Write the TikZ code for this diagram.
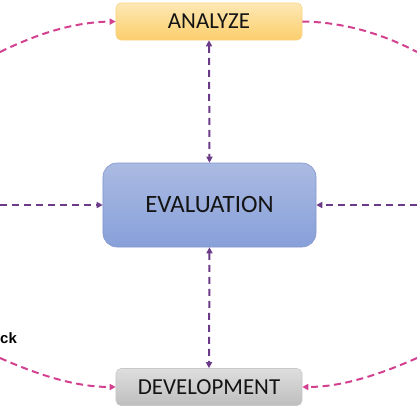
\documentclass[tikz,border=0pt]{standalone}
\usepackage{fontspec}
\setmainfont{Carlito}
\newfontfamily\labelfont{Liberation Sans}
\usetikzlibrary{arrows.meta,shadings}
\definecolor{pinkline}{HTML}{D2408F}
\definecolor{purpleline}{HTML}{6B3A88}
\definecolor{textdark}{HTML}{141414}
\tikzset{
  boxbase/.style={rounded corners=5bp, minimum width=186bp, minimum height=37bp, inner sep=0pt, text=textdark, font=\fontsize{23}{26}\selectfont},
  anabox/.style={boxbase, draw={rgb,255:red,248;green,210;blue,130}, line width=0.6bp, top color={rgb,255:red,253;green,232;blue,180}, bottom color={rgb,255:red,252;green,206;blue,108}},
  devbox/.style={boxbase, draw={rgb,255:red,200;green,200;blue,200}, line width=0.6bp, top color={rgb,255:red,222;green,222;blue,222}, bottom color={rgb,255:red,190;green,190;blue,190}},
  evalbox/.style={rounded corners=14bp, minimum width=213bp, minimum height=84bp, inner sep=0pt, text=textdark, font=\fontsize{25}{28}\selectfont, draw={rgb,255:red,130;green,150;blue,205}, line width=0.6bp, top color={rgb,255:red,170;green,186;blue,226}, bottom color={rgb,255:red,136;green,160;blue,217}},
  pinkarrow/.style={draw=pinkline, line width=2bp, dash pattern=on 7bp off 4.5bp, -{Triangle[length=6bp,width=6bp]}},
  purplearrow/.style={draw=purpleline, line width=2bp, dash pattern=on 7bp off 5bp},
  purpletip/.style={{Triangle[length=6bp,width=6bp]}-{Triangle[length=6bp,width=6bp]}},
  endtip/.style={-{Triangle[length=6bp,width=6bp]}},
  sidelabel/.style={font=\labelfont\bfseries\fontsize{15}{17}\selectfont, text=black, inner sep=0pt, anchor=west}
}
\begin{document}
\begin{tikzpicture}[x=1bp,y=-1bp]
\useasboundingbox (0,0) rectangle (417,417);
\node[anabox] (ana) at (209,21.5) {ANALYZE};
\node[evalbox] (eval) at (209.5,205) {EVALUATION};
\node[devbox] (dev) at (209,387) {DEVELOPMENT};
\node[sidelabel] (ck) at (0,338) {ck};
\coordinate (tl) at (0,52);
\coordinate (tr) at (417,52);
\coordinate (ml) at (0,205);
\coordinate (mr) at (417,205);
\coordinate (bl) at (0,358);
\coordinate (br) at (417,358);
% vertical two-headed
\draw[purplearrow, purpletip] (ana.south) -- (eval.north);
\draw[purplearrow, purpletip] (eval.south) -- (dev.north);
% horizontal into evaluation
\draw[purplearrow, endtip] (ml) -- (eval.west);
\draw[purplearrow, endtip] (mr) -- (eval.east);
% pink curves
\draw[pinkarrow] (tl) .. controls (45,30) and (80,22) .. (ana.west);
\draw[pinkarrow, -] (ana.east) .. controls (345,22) and (385,35) .. (tr);
\draw[pinkarrow] (bl) .. controls (45,378) and (80,387) .. (dev.west);
\draw[pinkarrow] (br) .. controls (372,378) and (337,387) .. (dev.east);
\end{tikzpicture}
\end{document}
